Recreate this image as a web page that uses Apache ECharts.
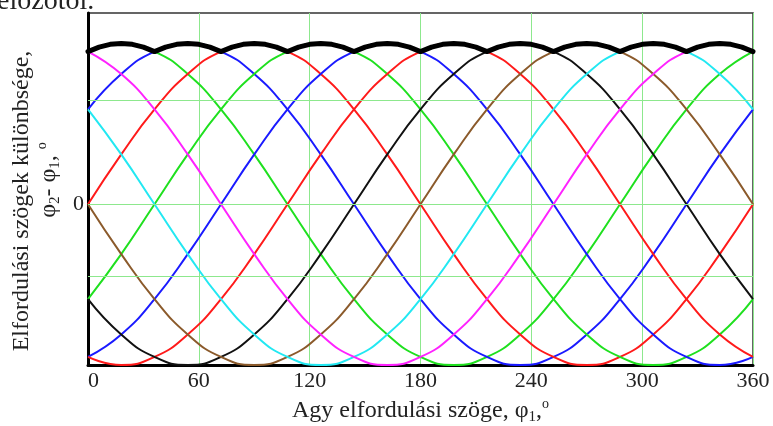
<!DOCTYPE html>
<html>
<head>
<meta charset="utf-8">
<script src="https://cdn.jsdelivr.net/npm/echarts@6/dist/echarts.min.js"></script>
<style>
  html, body { margin: 0; padding: 0; background: #fff; }
  #chart { width: 773px; height: 426px; }
</style>
</head>
<body>
<div id="chart"></div>
<script>
// angle of the hub, every 18 degrees
const xs = [0, 18, 36, 54, 72, 90, 108, 126, 144, 162, 180, 198, 216, 234, 252, 270, 288, 306, 324, 342, 360];

// relative difference of angles (amplitude = 1)
const green1 = [0.95, 1, 0.95, 0.81, 0.59, 0.31, 0, -0.31, -0.59, -0.81, -0.95, -1, -0.95, -0.81, -0.59, -0.31, 0, 0.31, 0.59, 0.81, 0.95];
const blue1 = [0.59, 0.81, 0.95, 1, 0.95, 0.81, 0.59, 0.31, 0, -0.31, -0.59, -0.81, -0.95, -1, -0.95, -0.81, -0.59, -0.31, 0, 0.31, 0.59];
const red1 = [0, 0.31, 0.59, 0.81, 0.95, 1, 0.95, 0.81, 0.59, 0.31, 0, -0.31, -0.59, -0.81, -0.95, -1, -0.95, -0.81, -0.59, -0.31, 0];
const green2 = [-0.59, -0.31, 0, 0.31, 0.59, 0.81, 0.95, 1, 0.95, 0.81, 0.59, 0.31, 0, -0.31, -0.59, -0.81, -0.95, -1, -0.95, -0.81, -0.59];
const blue2 = [-0.95, -0.81, -0.59, -0.31, 0, 0.31, 0.59, 0.81, 0.95, 1, 0.95, 0.81, 0.59, 0.31, 0, -0.31, -0.59, -0.81, -0.95, -1, -0.95];
const red2 = [-0.95, -1, -0.95, -0.81, -0.59, -0.31, 0, 0.31, 0.59, 0.81, 0.95, 1, 0.95, 0.81, 0.59, 0.31, 0, -0.31, -0.59, -0.81, -0.95];
const black1 = [-0.59, -0.81, -0.95, -1, -0.95, -0.81, -0.59, -0.31, 0, 0.31, 0.59, 0.81, 0.95, 1, 0.95, 0.81, 0.59, 0.31, 0, -0.31, -0.59];
const brown1 = [0, -0.31, -0.59, -0.81, -0.95, -1, -0.95, -0.81, -0.59, -0.31, 0, 0.31, 0.59, 0.81, 0.95, 1, 0.95, 0.81, 0.59, 0.31, 0];
const cyan1 = [0.59, 0.31, 0, -0.31, -0.59, -0.81, -0.95, -1, -0.95, -0.81, -0.59, -0.31, 0, 0.31, 0.59, 0.81, 0.95, 1, 0.95, 0.81, 0.59];
const magenta1 = [0.95, 0.81, 0.59, 0.31, 0, -0.31, -0.59, -0.81, -0.95, -1, -0.95, -0.81, -0.59, -0.31, 0, 0.31, 0.59, 0.81, 0.95, 1, 0.95];

// upper envelope (thick black), every 6 degrees
const envX = [0, 6, 12, 18, 24, 30, 36, 42, 48, 54, 60, 66, 72, 78, 84, 90, 96, 102, 108, 114, 120,
  126, 132, 138, 144, 150, 156, 162, 168, 174, 180, 186, 192, 198, 204, 210, 216, 222, 228, 234, 240,
  246, 252, 258, 264, 270, 276, 282, 288, 294, 300, 306, 312, 318, 324, 330, 336, 342, 348, 354, 360];
const envY = [
  0.95, 0.978, 0.995, 1, 0.995, 0.978,
  0.95, 0.978, 0.995, 1, 0.995, 0.978,
  0.95, 0.978, 0.995, 1, 0.995, 0.978,
  0.95, 0.978, 0.995, 1, 0.995, 0.978,
  0.95, 0.978, 0.995, 1, 0.995, 0.978,
  0.95, 0.978, 0.995, 1, 0.995, 0.978,
  0.95, 0.978, 0.995, 1, 0.995, 0.978,
  0.95, 0.978, 0.995, 1, 0.995, 0.978,
  0.95, 0.978, 0.995, 1, 0.995, 0.978,
  0.95, 0.978, 0.995, 1, 0.995, 0.978,
  0.95];

// horizontal grid lines and the only y label
const yGrid = [0.646, 0, -0.453];
const yLabels = ['0'];

const curves = [
  { data: green1, color: '#1fe01f' },
  { data: blue1, color: '#1a1aff' },
  { data: red1, color: '#ff1a1a' },
  { data: green2, color: '#1fe01f' },
  { data: blue2, color: '#1a1aff' },
  { data: red2, color: '#ff1a1a' },
  { data: black1, color: '#111111' },
  { data: brown1, color: '#8b5a2b' },
  { data: cyan1, color: '#22e8f2' },
  { data: magenta1, color: '#ff22ff' },
];

const serif = 'Liberation Serif';

var dom = document.getElementById('chart');
var myChart = echarts.init(dom, null, { renderer: 'canvas' });

var series = [];
series.push({
  type: 'line',
  data: [],
  silent: true,
  z: 1,
  markLine: {
    silent: true,
    symbol: 'none',
    label: { show: false },
    lineStyle: { color: '#8de88d', width: 1, type: 'solid' },
    data: yGrid.map((v) => ({ yAxis: v })),
  },
});
curves.forEach((c) => {
  series.push({
    type: 'line',
    data: xs.map((x, i) => [x, c.data[i]]),
    smooth: 0.5,
    showSymbol: false,
    z: 2,
    lineStyle: { color: c.color, width: 2 },
    itemStyle: { color: c.color },
  });
});
series.push({
  type: 'line',
  data: envX.map((x, i) => [x, envY[i]]),
  showSymbol: false,
  z: 3,
  lineStyle: { color: '#000', width: 5, cap: 'round', join: 'round' },
});

var option = {
  animation: false,
  grid: {
    left: 88,
    right: 20,
    top: 13,
    bottom: 61,
    show: true,
    borderColor: '#333',
    borderWidth: 1.5,
    outerBoundsMode: 'none',
    containLabel: false,
  },
  xAxis: {
    type: 'value',
    min: 0,
    max: 360,
    interval: 60,
    axisLine: { onZero: false, lineStyle: { color: '#000', width: 3 } },
    axisTick: { show: false },
    splitLine: { lineStyle: { color: '#8de88d', width: 1 } },
    axisLabel: {
      fontFamily: serif,
      fontSize: 22,
      color: '#222',
      margin: 5,
      alignMinLabel: 'left',
    },
    name: '{a|Agy elfordulási szöge, φ}{s|1}{a|,}{p|o}',
    nameLocation: 'middle',
    nameGap: 30,
    nameTextStyle: {
      rich: {
        a: { fontFamily: serif, fontSize: 24, color: '#222', lineHeight: 28 },
        s: { fontFamily: serif, fontSize: 15, color: '#222', verticalAlign: 'bottom', lineHeight: 15 },
        p: { fontFamily: serif, fontSize: 14, color: '#222', verticalAlign: 'top', lineHeight: 14 },
      },
    },
  },
  yAxis: {
    type: 'value',
    min: -1,
    max: 1.19,
    interval: 1,
    axisLine: { show: true, onZero: false, lineStyle: { color: '#000', width: 3 } },
    axisTick: { show: false },
    splitLine: { show: false },
    axisLabel: {
      fontFamily: serif,
      fontSize: 22,
      color: '#222',
      margin: 4,
      showMaxLabel: false,
      formatter: (v) => (v === 0 ? yLabels[0] : ''),
    },
  },
  graphic: [
    {
      type: 'text',
      x: -3,
      y: 16,
      style: {
        text: 'előzőtől.',
        font: '28px "Liberation Serif"',
        fill: '#222',
        verticalAlign: 'bottom',
      },
    },
    {
      type: 'text',
      x: 22,
      y: 201,
      rotation: Math.PI / 2,
      style: {
        text: 'Elfordulási szögek különbsége,',
        font: '24px "Liberation Serif"',
        fill: '#222',
        align: 'center',
        verticalAlign: 'middle',
      },
    },
    {
      type: 'text',
      x: 49,
      y: 180,
      rotation: Math.PI / 2,
      style: {
        text: '{a|φ}{s|2}{a|- φ}{s|1}{a|, }{p|o}',
        align: 'center',
        verticalAlign: 'middle',
        rich: {
          a: { fontFamily: serif, fontSize: 24, fill: '#222', lineHeight: 28 },
          s: { fontFamily: serif, fontSize: 15, fill: '#222', verticalAlign: 'bottom', lineHeight: 15 },
          p: { fontFamily: serif, fontSize: 14, fill: '#222', verticalAlign: 'top', lineHeight: 14 },
        },
      },
    },
  ],
  series: series,
};

myChart.setOption(option);
window.addEventListener('resize', myChart.resize);
</script>
</body>
</html>
